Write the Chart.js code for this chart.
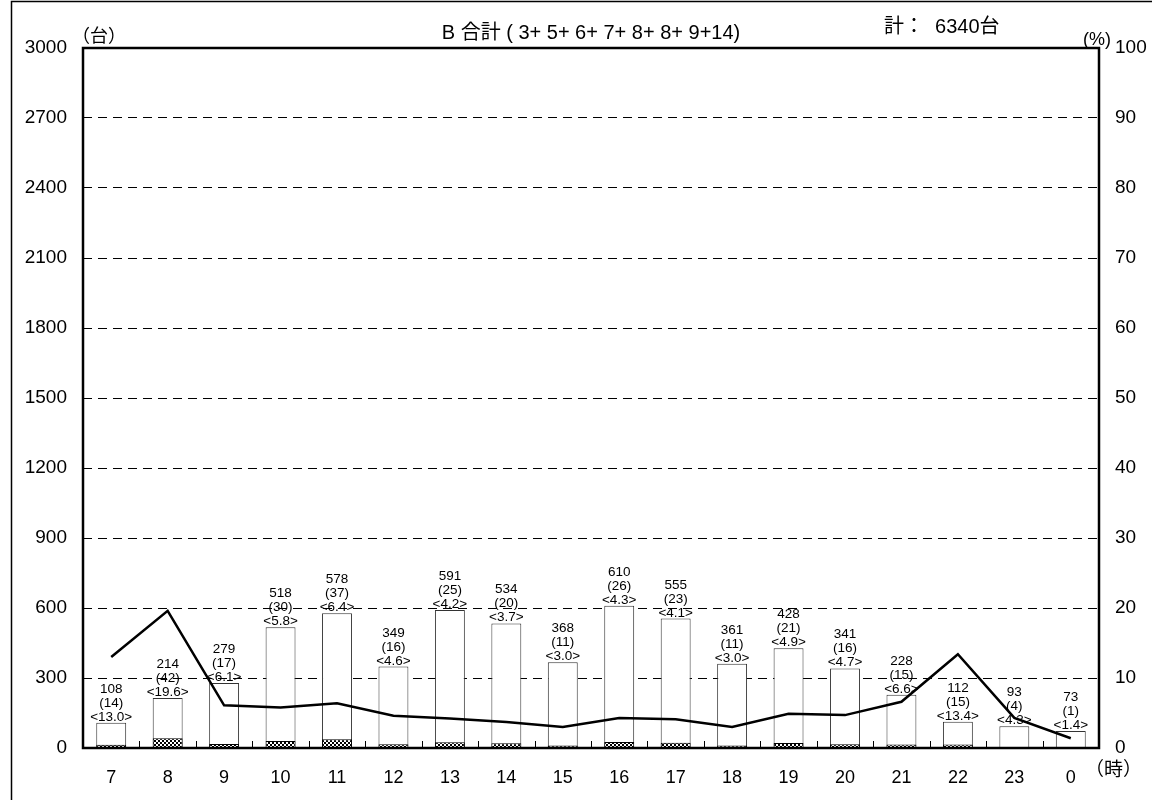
<!DOCTYPE html>
<html>
<head>
<meta charset="utf-8">
<script src="https://cdn.jsdelivr.net/npm/chart.js@4.4.1/dist/chart.umd.min.js"></script>
<style>
  html, body { margin: 0; padding: 0; background: #fff; }
  #chart { display: block; }
</style>
</head>
<body>
<canvas id="chart" width="1152" height="800"></canvas>
<script>
// hours of the survey (x categories)
const hours = ['7', '8', '9', '10', '11', '12', '13', '14', '15', '16', '17', '18', '19', '20', '21', '22', '23', '0'];
// total vehicles per hour
const totals = [108, 214, 279, 518, 578, 349, 591, 534, 368, 610, 555, 361, 428, 341, 228, 112, 93, 73];
// large vehicles per hour (hatched part)
const largeCounts = [14, 42, 17, 30, 37, 16, 25, 20, 11, 26, 23, 11, 21, 16, 15, 15, 4, 1];
// large vehicle share (%)
const largeShare = [13.0, 19.6, 6.1, 5.8, 6.4, 4.6, 4.2, 3.7, 3.0, 4.3, 4.1, 3.0, 4.9, 4.7, 6.6, 13.4, 4.3, 1.4];

const countTicks = [0, 300, 600, 900, 1200, 1500, 1800, 2100, 2400, 2700, 3000];
const shareTicks = [0, 10, 20, 30, 40, 50, 60, 70, 80, 90, 100];

const titleText = 'B 合計 ( 3+ 5+ 6+ 7+ 8+ 8+ 9+14)';
const totalText = '計：  6340台';

const FONT = '"Liberation Sans", Arial, sans-serif';
const CJK = '"Liberation Sans", "Noto Sans CJK JP", sans-serif';

function checkerPattern() {
    const c = document.createElement('canvas');
    c.width = 4;
    c.height = 4;
    const g = c.getContext('2d');
    g.fillStyle = '#000';
    g.fillRect(0, 0, 4, 4);
    g.fillStyle = '#fff';
    g.fillRect(0, 0, 2, 2);
    g.fillRect(2, 2, 2, 2);
    return g.createPattern(c, 'repeat');
}

const ctx = document.getElementById('chart').getContext('2d');

const decorations = {
    id: 'decorations',
    afterDraw(chart) {
        const { ctx, chartArea: a, scales } = chart;
        const xs = scales.x, ys = scales.y;
        ctx.save();

        // outer frame
        ctx.strokeStyle = '#000';
        ctx.lineWidth = 1.5;
        ctx.beginPath();
        ctx.moveTo(11.5, 800);
        ctx.lineTo(11.5, 1.5);
        ctx.lineTo(1152, 1.5);
        ctx.stroke();

        // plot frame
        ctx.lineWidth = 2.5;
        ctx.strokeRect(a.left, a.top, a.right - a.left, a.bottom - a.top);

        // short ticks between categories
        ctx.lineWidth = 1;
        for (let i = 1; i < hours.length; i++) {
            const x = Math.round((xs.getPixelForValue(i - 1) + xs.getPixelForValue(i)) / 2) + 0.5;
            ctx.beginPath();
            ctx.moveTo(x, a.bottom);
            ctx.lineTo(x, a.bottom - 7);
            ctx.stroke();
        }

        // value labels above bars
        ctx.fillStyle = '#000';
        ctx.font = '13.5px ' + FONT;
        ctx.textAlign = 'center';
        ctx.textBaseline = 'alphabetic';
        totals.forEach((v, i) => {
            const x = xs.getPixelForValue(i);
            const y = ys.getPixelForValue(v) - 2;
            ctx.fillText('<' + largeShare[i].toFixed(1) + '>', x, y);
            ctx.fillText('(' + largeCounts[i] + ')', x, y - 14);
            ctx.fillText(String(v), x, y - 28);
        });

        // titles and units
        ctx.textBaseline = 'middle';
        ctx.font = '20px ' + CJK;
        ctx.textAlign = 'center';
        ctx.fillText(titleText, (a.left + a.right) / 2, 33);
        ctx.font = '20px ' + CJK;
        ctx.textAlign = 'left';
        ctx.fillText(totalText, 884, 27);
        ctx.font = '18px ' + CJK;
        ctx.fillText('（台）', 72, 37);
        ctx.fillText('(%)', 1083, 40);
        ctx.font = '19px ' + CJK;
        ctx.fillText('（時）', 1085, 771);
        ctx.restore();
    }
};

new Chart(ctx, {
    data: {
        labels: hours,
        datasets: [
            {
                type: 'line',
                label: '大型車混入率',
                data: largeShare,
                yAxisID: 'y1',
                borderColor: '#000',
                borderWidth: 2.5,
                pointRadius: 0,
                tension: 0,
                order: 0,
            },
            {
                type: 'bar',
                label: '大型車',
                data: largeCounts,
                yAxisID: 'y',
                backgroundColor: checkerPattern(),
                borderColor: '#000',
                borderWidth: 1,
                grouped: false,
                categoryPercentage: 1,
                barPercentage: 0.53,
                order: 1,
            },
            {
                type: 'bar',
                label: '合計',
                data: totals,
                yAxisID: 'y',
                backgroundColor: '#fff',
                borderColor: '#333',
                borderWidth: 1,
                grouped: false,
                categoryPercentage: 1,
                barPercentage: 0.53,
                order: 2,
            },
        ]
    },
    options: {
        responsive: false,
        devicePixelRatio: 1,
        animation: false,
        layout: { padding: { top: 48, left: 0, right: 0, bottom: 0 } },
        plugins: {
            legend: { display: false },
            tooltip: { enabled: false },
            title: { display: false },
        },
        scales: {
            x: {
                offset: true,
                grid: { display: false },
                border: { display: false },
                ticks: { color: '#000', font: { size: 18, family: FONT }, padding: 11, maxRotation: 0 },
                afterFit: s => { s.height = 52; },
            },
            y: {
                position: 'left',
                min: 0,
                max: 3000,
                afterBuildTicks: s => { s.ticks = countTicks.map(v => ({ value: v })); },
                grid: {
                    drawTicks: false,
                    lineWidth: 1,
                    color: c => (c.tick && c.tick.value > 0 && c.tick.value < 3000) ? '#000' : 'rgba(0,0,0,0)',
                },
                border: { display: false, dash: [9, 6] },
                ticks: { color: '#000', font: { size: 19, family: FONT }, padding: 16, callback: v => String(v) },
                afterFit: s => { s.width = 83; },
            },
            y1: {
                position: 'right',
                min: 0,
                max: 100,
                afterBuildTicks: s => { s.ticks = shareTicks.map(v => ({ value: v })); },
                grid: { display: false, drawTicks: false },
                border: { display: false },
                ticks: { color: '#000', font: { size: 19, family: FONT }, padding: 16, callback: v => String(v) },
                afterFit: s => { s.width = 53; },
            },
        }
    },
    plugins: [decorations]
});
</script>
</body>
</html>
